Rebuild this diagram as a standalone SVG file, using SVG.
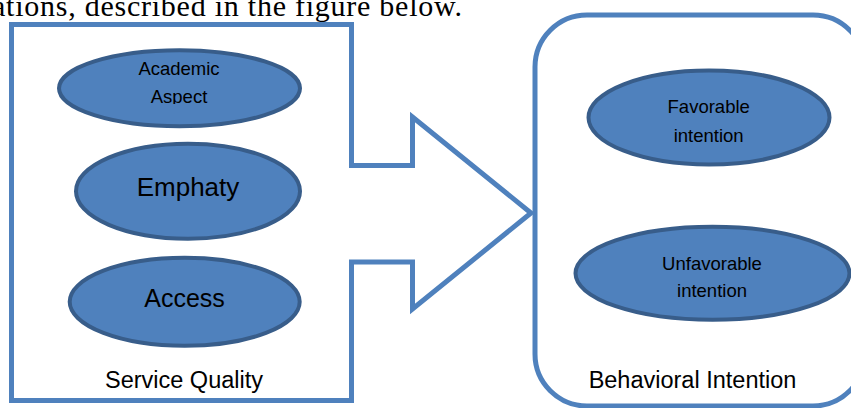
<svg xmlns="http://www.w3.org/2000/svg" width="851" height="408" viewBox="0 0 851 408">
<style>
.frame{fill:none;stroke:#4F81BD;stroke-width:5;stroke-linejoin:miter}
.oval{fill:#4F81BD;stroke:#385D8A;stroke-width:4}
.lbl{font-family:"Liberation Sans",Arial,sans-serif;fill:#000;text-anchor:middle}
.cap{font-family:"Liberation Serif","Times New Roman",serif;font-size:30px;fill:#000}
</style>
<defs>
<clipPath id="clipAca"><rect x="60" y="40" width="240" height="64"/></clipPath>
</defs>
<rect width="851" height="408" fill="#fff"/>
<text class="cap" x="-8" y="16" textLength="470" lengthAdjust="spacing">ations, described in the figure below.</text>

<g id="service-quality">
<path class="frame" d="M11.5,24.5 H351.5 V165.5 H412.5 V117 L531,213 L412.5,309 V262 H351.5 V400.5 H11.5 Z"/>
<text class="lbl" x="184" y="388.3" font-size="23.5">Service Quality</text>
</g>

<g id="academic-aspect">
<ellipse class="oval" cx="179.5" cy="88.3" rx="120.5" ry="38"/>
<g clip-path="url(#clipAca)">
<text class="lbl" x="179" y="75" font-size="18.5">Academic</text>
<text class="lbl" x="179" y="102.7" font-size="18.5">Aspect</text>
</g>
</g>

<g id="emphaty">
<ellipse class="oval" cx="188" cy="191.2" rx="112" ry="47.5"/>
<text class="lbl" x="188" y="195.7" font-size="26">Emphaty</text>
</g>

<g id="access">
<ellipse class="oval" cx="184.7" cy="301.8" rx="115" ry="44"/>
<text class="lbl" x="184.5" y="307.3" font-size="25">Access</text>
</g>

<g id="behavioral-intention">
<rect class="frame" x="535" y="15" width="330" height="391" rx="52" ry="52"/>
<text class="lbl" x="692.5" y="388.3" font-size="23.5">Behavioral Intention</text>
</g>

<g id="favorable-intention">
<ellipse class="oval" cx="709" cy="117.5" rx="120.5" ry="47"/>
<text class="lbl" x="708.7" y="113.3" font-size="18.5">Favorable</text>
<text class="lbl" x="708.7" y="141.7" font-size="18.5">intention</text>
</g>

<g id="unfavorable-intention">
<ellipse class="oval" cx="712.5" cy="273.3" rx="137" ry="46.5"/>
<text class="lbl" x="712" y="270" font-size="18.5">Unfavorable</text>
<text class="lbl" x="712" y="296.7" font-size="18.5">intention</text>
</g>

<g id="connectors"></g>
</svg>
